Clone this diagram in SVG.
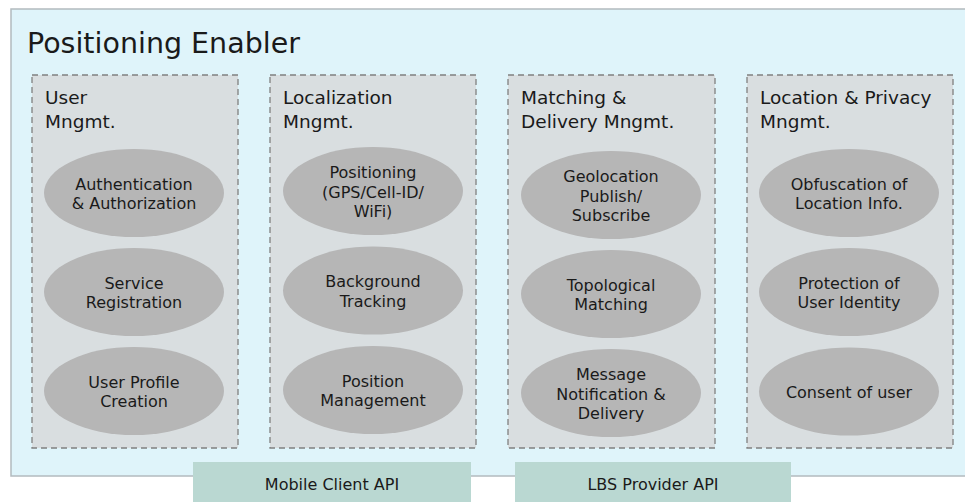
<svg xmlns="http://www.w3.org/2000/svg" width="965" height="502" viewBox="0 0 965 502">
  <style>
    text { font-family: "DejaVu Sans", Verdana, sans-serif; fill: #1a1a1a; }
    .frame { fill: #dff4fa; stroke: #b3bbbf; stroke-width: 1.5; }
    .title { font-size: 28.5px; }
    .group { fill: #d9dee0; stroke: #808080; stroke-width: 1.3; stroke-dasharray: 6 4; }
    .head { font-size: 18.5px; }
    .func ellipse { fill: #b6b6b6; }
    .func text { font-size: 16px; text-anchor: middle; }
    .api rect { fill: #bad8d2; }
    .api text { font-size: 16px; text-anchor: middle; }
  </style>

  <!-- enabler frame, runs off the right edge -->
  <g id="enabler">
    <rect class="frame" x="11" y="9" width="970" height="467"/>
    <text class="title" x="27" y="53">Positioning Enabler</text>
  </g>

  <!-- User management -->
  <g id="user-mngmt">
    <rect class="group" x="32" y="75" width="206" height="373"/>
    <text class="head" x="45" y="104">User</text>
    <text class="head" x="45" y="128">Mngmt.</text>
  </g>
  <g id="auth" class="func">
    <ellipse cx="134" cy="193" rx="90" ry="44"/>
    <text x="134" y="189.5">Authentication</text>
    <text x="134" y="209">&amp; Authorization</text>
  </g>
  <g id="service-registration" class="func">
    <ellipse cx="134" cy="292" rx="90" ry="44"/>
    <text x="134" y="288.5">Service</text>
    <text x="134" y="308">Registration</text>
  </g>
  <g id="user-profile" class="func">
    <ellipse cx="134" cy="391" rx="90" ry="44"/>
    <text x="134" y="387.5">User Profile</text>
    <text x="134" y="407">Creation</text>
  </g>

  <!-- Localization management -->
  <g id="localization-mngmt">
    <rect class="group" x="270" y="75" width="206" height="373"/>
    <text class="head" x="283" y="104">Localization</text>
    <text class="head" x="283" y="128">Mngmt.</text>
  </g>
  <g id="positioning" class="func">
    <ellipse cx="373" cy="191" rx="90" ry="44"/>
    <text x="373" y="178">Positioning</text>
    <text x="373" y="197.5">(GPS/Cell-ID/</text>
    <text x="373" y="217">WiFi)</text>
  </g>
  <g id="background-tracking" class="func">
    <ellipse cx="373" cy="290.5" rx="90" ry="44"/>
    <text x="373" y="287">Background</text>
    <text x="373" y="306.5">Tracking</text>
  </g>
  <g id="position-management" class="func">
    <ellipse cx="373" cy="390" rx="90" ry="44"/>
    <text x="373" y="386.5">Position</text>
    <text x="373" y="406">Management</text>
  </g>

  <!-- Matching & delivery management -->
  <g id="matching-mngmt">
    <rect class="group" x="508" y="75" width="207" height="373"/>
    <text class="head" x="521" y="104">Matching &amp;</text>
    <text class="head" x="521" y="128">Delivery Mngmt.</text>
  </g>
  <g id="publish-subscribe" class="func">
    <ellipse cx="611" cy="195" rx="90" ry="44"/>
    <text x="611" y="182">Geolocation</text>
    <text x="611" y="201.5">Publish/</text>
    <text x="611" y="221">Subscribe</text>
  </g>
  <g id="topological-matching" class="func">
    <ellipse cx="611" cy="294" rx="90" ry="44"/>
    <text x="611" y="290.5">Topological</text>
    <text x="611" y="310">Matching</text>
  </g>
  <g id="message-delivery" class="func">
    <ellipse cx="611" cy="393" rx="90" ry="44"/>
    <text x="611" y="380">Message</text>
    <text x="611" y="399.5">Notification &amp;</text>
    <text x="611" y="419">Delivery</text>
  </g>

  <!-- Location & privacy management -->
  <g id="privacy-mngmt">
    <rect class="group" x="747" y="75" width="206" height="373"/>
    <text class="head" x="760" y="104">Location &amp; Privacy</text>
    <text class="head" x="760" y="128">Mngmt.</text>
  </g>
  <g id="obfuscation" class="func">
    <ellipse cx="849" cy="193" rx="90" ry="44"/>
    <text x="849" y="189.5">Obfuscation of</text>
    <text x="849" y="209">Location Info.</text>
  </g>
  <g id="identity-protection" class="func">
    <ellipse cx="849" cy="292" rx="90" ry="44"/>
    <text x="849" y="288.5">Protection of</text>
    <text x="849" y="308">User Identity</text>
  </g>
  <g id="consent" class="func">
    <ellipse cx="849" cy="391.5" rx="90" ry="44"/>
    <text x="849" y="397.5">Consent of user</text>
  </g>

  <!-- external interfaces -->
  <g id="mobile-client-api" class="api">
    <rect x="193" y="462" width="278" height="42"/>
    <text x="332" y="490">Mobile Client API</text>
  </g>
  <g id="lbs-provider-api" class="api">
    <rect x="515" y="462" width="276" height="42"/>
    <text x="653" y="490">LBS Provider API</text>
  </g>
</svg>
